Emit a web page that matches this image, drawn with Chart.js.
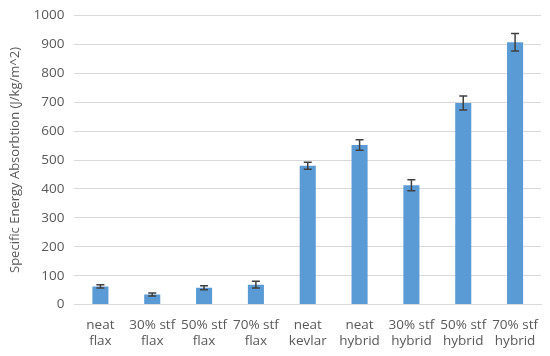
<!DOCTYPE html>
<html>
<head>
<meta charset="utf-8">
<script src="https://cdn.jsdelivr.net/npm/chart.js@4.4.1/dist/chart.umd.min.js"></script>
<style>
  html, body { margin: 0; padding: 0; background: #fff; }
  #wrap { width: 550px; height: 356px; }
</style>
</head>
<body>
<div id="wrap"><canvas id="chart"></canvas></div>
<script>
// values
const categories = [
    ['neat', 'flax'], ['30% stf', 'flax'], ['50% stf', 'flax'], ['70% stf', 'flax'],
    ['neat', 'kevlar'], ['neat', 'hybrid'], ['30% stf', 'hybrid'], ['50% stf', 'hybrid'], ['70% stf', 'hybrid']
];
const energyValues = [63, 35, 58, 69, 480, 552, 413, 697, 907];
const energyErrors = [6, 5, 7, 12, 12, 18, 19, 24, 30];
const yTicks = [0, 100, 200, 300, 400, 500, 600, 700, 800, 900, 1000];

// draws the +/- error whiskers on top of each bar
const errorBars = {
    id: 'errorBars',
    afterDatasetsDraw(chart) {
        const ctx = chart.ctx;
        const meta = chart.getDatasetMeta(0);
        const y = chart.scales.y;
        ctx.save();
        ctx.strokeStyle = '#404040';
        ctx.lineWidth = 1.5;
        meta.data.forEach((bar, i) => {
            const top = y.getPixelForValue(energyValues[i] + energyErrors[i]);
            const bottom = y.getPixelForValue(energyValues[i] - energyErrors[i]);
            const x = bar.x;
            ctx.beginPath();
            ctx.moveTo(x, top); ctx.lineTo(x, bottom);
            ctx.moveTo(x - 4, top); ctx.lineTo(x + 4, top);
            ctx.moveTo(x - 4, bottom); ctx.lineTo(x + 4, bottom);
            ctx.stroke();
        });
        ctx.restore();
    }
};

Chart.defaults.font.family = 'Open Sans, sans-serif';
Chart.defaults.color = '#595959';

new Chart(document.getElementById('chart').getContext('2d'), {
    type: 'bar',
    data: {
        labels: categories,
        datasets: [{
            data: energyValues,
            backgroundColor: '#5B9BD5',
            barPercentage: 0.62,
            categoryPercentage: 0.5
        }]
    },
    options: {
        responsive: true,
        maintainAspectRatio: false,
        animation: false,
        layout: { padding: { top: 0, right: 9, bottom: 3, left: 5 } },
        plugins: { legend: { display: false }, tooltip: { enabled: false } },
        scales: {
            x: {
                grid: { display: false },
                border: { color: '#d9d9d9' },
                ticks: { font: { size: 13.5, lineHeight: 1.2 }, color: '#595959', maxRotation: 0, padding: 4 }
            },
            y: {
                min: 0,
                max: 1000,
                afterBuildTicks: (axis) => { axis.ticks = yTicks.map(v => ({ value: v })); },
                grid: { color: '#d9d9d9', drawTicks: false },
                border: { display: false },
                ticks: { font: { size: 13.5, lineHeight: 0.8 }, color: '#595959', padding: 10, callback: (v) => String(v) },
                title: {
                    display: true,
                    text: 'Specific Energy Absorbtion (J/kg/m^2)',
                    font: { size: 13 },
                    color: '#595959',
                    padding: { top: 2, bottom: 1 }
                }
            }
        }
    },
    plugins: [errorBars]
});
</script>
</body>
</html>
